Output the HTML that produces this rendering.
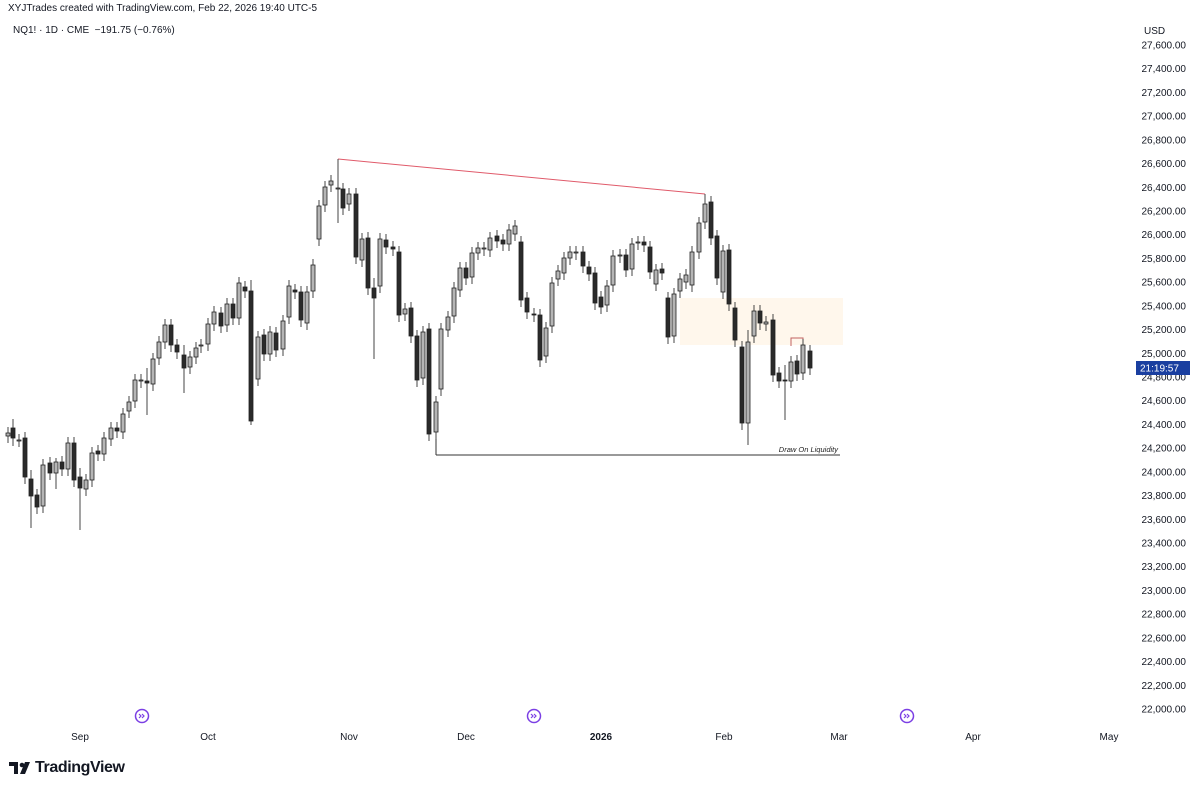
<!DOCTYPE html>
<html><head><meta charset="utf-8"><style>
body{margin:0;width:1200px;height:790px;background:#fff;overflow:hidden;font-family:"Liberation Sans",sans-serif;position:relative}
.t{position:absolute;white-space:nowrap;color:#131722}
</style></head><body>
<div class="t" style="left:8px;top:3px;font-size:10px">XYJTrades created with TradingView.com, Feb 22, 2026 19:40 UTC-5</div>
<div class="t" style="left:13px;top:25px;font-size:10px">NQ1! · 1D · CME &nbsp;−191.75 (−0.76%)</div>
<div class="t" style="left:1144px;top:26px;font-size:10px">USD</div>
<svg id="s" width="1200" height="790" style="position:absolute;left:0;top:0" xmlns="http://www.w3.org/2000/svg"></svg>
<div class="t" style="left:35px;top:759px;font-size:16px;font-weight:bold;letter-spacing:-0.4px">TradingView</div>
<script>
var s=document.getElementById('s'),h='';
h+='<rect x="680" y="298" width="163" height="47" fill="#fff7ec"/>';
h+='<line x1="338" y1="159" x2="705" y2="194" stroke="#e05a6a" stroke-width="1"/>';
h+='<line x1="338" y1="159" x2="338" y2="170" stroke="#444"/><line x1="705" y1="194" x2="705" y2="205" stroke="#444"/>';
h+='<line x1="436" y1="400" x2="436" y2="455" stroke="#333"/><line x1="436" y1="455" x2="840" y2="455" stroke="#333"/>';
h+='<text x="838" y="452" font-size="7.5" font-style="italic" text-anchor="end" fill="#222">Draw On Liquidity</text>';
h+='<polyline points="791,346 791,338 803,338 803,346" fill="none" stroke="#c06060"/>';
var c=[[8,433,436],[13,428,438,1,419,446],[19,440,440],[25,438,477,1],[31,479,496,1,470,528],[37,495,507,1],[43,506,465],[50,463,473,1],[56,473,462,0,458,489],[62,462,469,1],[68,469,443],[74,443,480,1],[80,477,488,1,468,530],[86,489,480],[92,480,453],[98,451,454,1],[104,454,438],[111,439,428],[117,428,431,1],[123,432,414],[129,411,402],[135,401,380],[141,380,381],[147,381,383,1,368,415],[153,384,359],[159,358,342],[165,342,325],[171,325,345,1],[177,345,352,1],[184,355,368,1,345,393],[190,367,357],[196,357,348],[201,345,346],[208,344,324],[214,324,312],[221,313,326,1],[227,325,304],[233,304,318,1],[239,318,283],[245,287,291,1],[251,291,421,1,280,425],[258,379,337],[264,335,354,1],[270,354,332],[276,333,350,1],[283,349,321],[289,317,286],[295,290,292,1],[301,292,320,1],[307,323,292],[313,291,265],[319,239,206],[325,205,187],[331,185,181],[338,188,188,0,160,223],[343,189,208,1],[349,204,194],[356,194,257,1],[362,260,239],[368,238,288,1],[374,288,298,1,278,359],[380,286,239],[386,240,247,1],[393,247,249,1],[399,252,315,1],[405,314,309],[411,308,336,1],[417,336,380,1],[423,378,332],[429,329,434,1],[436,432,402],[441,389,329],[448,330,317],[454,316,288],[460,290,268],[466,268,278,1],[472,277,253],[478,253,248],[484,248,249],[490,250,238],[497,236,241,1],[503,240,244,1],[509,244,230],[515,234,226],[521,242,300,1],[527,298,312,1],[534,314,315,1],[540,315,360,1],[546,356,328],[552,326,283],[558,279,271],[564,273,258],[570,258,252],[576,252,253],[583,252,266,1],[589,267,274,1],[595,273,303,1],[601,297,307,1],[607,305,286],[613,285,256],[620,255,256],[626,255,270,1],[632,269,244],[638,242,243],[644,242,245,1],[650,247,272,1],[656,284,270],[662,269,273,1],[668,298,337,1],[674,336,294],[680,291,279],[686,282,275],[692,285,252],[699,252,223],[705,222,204],[711,202,238,1],[717,236,278,1],[723,292,251],[729,250,304,1],[735,308,340,1],[742,347,423,1],[748,423,342,0,330,445],[754,336,311],[760,311,323,1],[766,322,324],[773,320,375,1],[779,373,381,1],[785,380,381,1,365,420],[791,381,362],[797,361,374,1],[803,373,345],[810,351,368,1]];
c.forEach(function(a){var x=a[0],t=Math.min(a[1],a[2]),b=Math.max(a[1],a[2]),d=a[3],hi=a[4]||t-6,lo=a[5]||b+7;
h+='<line x1="'+x+'" y1="'+hi+'" x2="'+x+'" y2="'+lo+'" stroke="#444" stroke-width="1"/>';
h+='<rect x="'+(x-2)+'" y="'+t+'" width="4" height="'+Math.max(b-t,1)+'" fill="'+(d?'#2a2a2a':'#b5b5b5')+'" stroke="#222" stroke-width="0.8"/>';});
for(var i=0;i<=28;i++){var v=27600-200*i,y=45+i*23.714;h+='<text x="1186" y="'+(y+3.5)+'" font-size="10" text-anchor="end" fill="#131722">'+v.toLocaleString('en-US')+'.00</text>';}
h+='<rect x="1136" y="361" width="54" height="14" fill="#1a3fa0"/><text x="1140" y="371.5" font-size="10" fill="#fff">21:19:57</text>';
[['Sep',80],['Oct',208],['Nov',349],['Dec',466],['2026',601],['Feb',724],['Mar',839],['Apr',973],['May',1109]].forEach(function(m){h+='<text x="'+m[1]+'" y="740" font-size="10" text-anchor="middle" fill="#131722"'+(m[0]=='2026'?' font-weight="bold"':'')+'>'+m[0]+'</text>';});
[142,534,907].forEach(function(x){h+='<circle cx="'+x+'" cy="716" r="6.5" fill="none" stroke="#7b3fe4" stroke-width="1.5"/><path d="M'+(x-3)+' 714 l2 2 l-2 2 M'+x+' 714 l2 2 l-2 2" fill="none" stroke="#7b3fe4" stroke-width="1.2"/>';});
h+='<path d="M9 762 h9 v12 h-4 v-8 h-5z" fill="#131722"/><circle cx="22" cy="765" r="2.3" fill="#131722"/><path d="M25 762 h5 l-5 12 h-5z" fill="#131722"/>';
s.innerHTML=h;
</script>
</body></html>
